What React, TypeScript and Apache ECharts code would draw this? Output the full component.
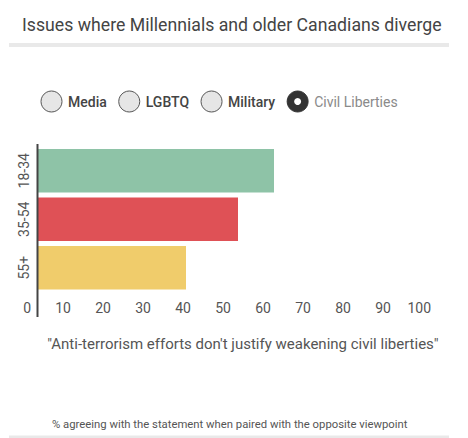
import React, { useEffect, useRef } from "react";
import * as echarts from "echarts";

const TITLE = "Issues where Millennials and older Canadians diverge";
const categories = ["18-34", "35-54", "55+"];
const values = [59, 50, 37];
const barColors = ["#8ec3a7", "#df5156", "#f0cc6b"];
const radioOptions = ["Media", "LGBTQ", "Military", "Civil Liberties"];
const selectedIndex = 3;
const statement = "\"Anti-terrorism efforts don't justify weakening civil liberties\"";
const footnote = "% agreeing with the statement when paired with the opposite viewpoint";
const xMin = 0;
const xMax = 100;
const xInterval = 10;

const FONT = "Roboto, 'Noto Sans', sans-serif";

function measure(text: string, font: string): number {
  const c = document.createElement("canvas");
  const ctx = c.getContext("2d");
  if (!ctx) return text.length * 7;
  ctx.font = font;
  return ctx.measureText(text).width;
}

export default function App() {
  const ref = useRef<HTMLDivElement>(null);
  useEffect(() => {
    document.body.style.margin = "0";
    if (!ref.current) return;
    const chart = echarts.init(ref.current, undefined, { renderer: "svg" });

    // radio buttons
    const radioEls: any[] = [];
    let x = 41;
    const cy = 101.5;
    const r = 10.5;
    radioOptions.forEach((name, i) => {
      const sel = i === selectedIndex;
      radioEls.push({
        type: "circle",
        shape: { cx: x + r, cy, r },
        style: { fill: sel ? "#333333" : "#e6e6e6", stroke: sel ? "#333333" : "#555555", lineWidth: 1 },
      });
      if (sel) {
        radioEls.push({
          type: "circle",
          shape: { cx: x + r, cy, r: 3.5 },
          style: { fill: "#ffffff" },
        });
      }
      const tx = x + 2 * r + 6;
      radioEls.push({
        type: "text",
        x: tx,
        y: cy,
        style: {
          text: name,
          fill: sel ? "#8a8a8a" : "#444444",
          font: `${sel ? "normal" : "500"} 14px ${FONT}`,
          textVerticalAlign: "middle",
          textAlign: "left",
        },
      });
      const w = measure(name, `${sel ? "normal" : "500"} 14px Roboto`);
      x = tx + w + 12;
    });

    chart.setOption({
      animation: false,
      title: {
        text: TITLE,
        left: 17,
        top: 11,
        textStyle: { fontFamily: FONT, fontSize: 17.7, fontWeight: "normal", color: "#444444" },
      },
      grid: { left: 38, right: 30, top: 146.5, height: 145.5, containLabel: false },
      xAxis: {
        type: "value",
        min: xMin,
        max: xMax,
        interval: xInterval,
        axisLine: { show: false },
        axisTick: { show: false },
        splitLine: { show: false },
        axisLabel: {
          color: "#555555",
          fontFamily: FONT,
          fontSize: 14,
          margin: 9,
          align: "right",
          padding: [0, 7, 0, 0],
        },
        name: statement,
        nameLocation: "middle",
        nameGap: 44,
        nameTextStyle: { color: "#555555", fontFamily: FONT, fontSize: 15, padding: [0, 0, 0, 10] },
      },
      yAxis: {
        type: "category",
        data: categories,
        inverse: true,
        axisLine: { show: false },
        axisTick: { show: false },
        axisLabel: {
          rotate: 90,
          color: "#555555",
          fontFamily: FONT,
          fontSize: 14,
          margin: 7,
        },
      },
      series: [
        {
          type: "bar",
          data: values.map((v, i) => ({ value: v, itemStyle: { color: barColors[i] } })),
          barCategoryGap: "10.3%",
        },
      ],
      graphic: [
        { type: "rect", shape: { x: 9, y: 43, width: 440, height: 4 }, style: { fill: "#e9e9e9" } },
        { type: "rect", shape: { x: 9, y: 435.5, width: 440, height: 3 }, style: { fill: "#e9e9e9" } },
        { type: "line", shape: { x1: 37.5, y1: 144, x2: 37.5, y2: 317 }, style: { stroke: "#444444", lineWidth: 2 }, z: 100 },
        ...radioEls,
        {
          type: "text",
          x: 52,
          y: 424,
          style: {
            text: footnote,
            fill: "#555555",
            font: `normal 11.3px ${FONT}`,
            textVerticalAlign: "middle",
          },
        },
      ],
    });
    return () => chart.dispose();
  }, []);
  return <div ref={ref} style={{ width: 468, height: 438 }} />;
}
